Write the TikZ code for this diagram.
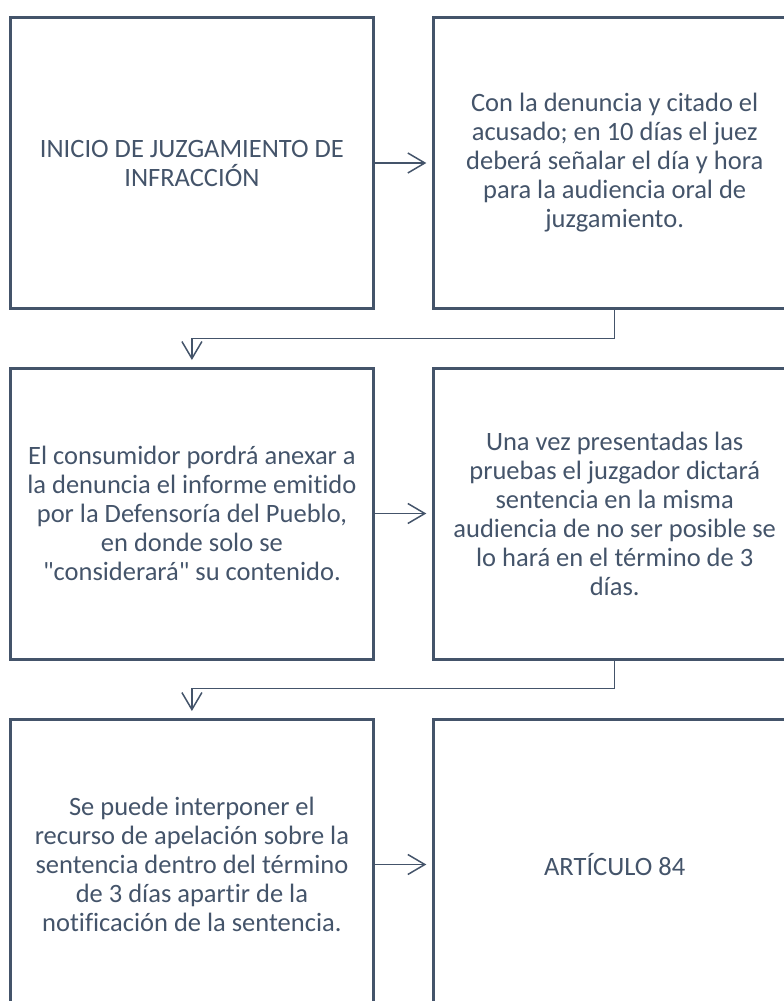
\documentclass[tikz,border=0pt]{standalone}
\usepackage{fontspec}
\newfontfamily\carl{Carlito}[Ligatures=NoCommon]
\usetikzlibrary{arrows.meta}
\definecolor{slate}{HTML}{44546A}
\tikzset{
  box/.style={draw=slate, line width=3pt, rectangle, minimum width=362.8pt, minimum height=291pt, inner sep=0pt, outer sep=0pt, align=center, text=slate, font=\carl\fontsize{26.5}{29}\selectfont},
  conn/.style={draw=slate, line width=1.5pt, -{Straight Barb[length=17pt,width=20pt,line width=1.5pt]}},
}
\begin{document}
\begin{tikzpicture}[x=1pt,y=-1pt]
\useasboundingbox (0,0) rectangle (784,1001);
\clip (0,0) rectangle (784,1001);
\node[box] (a) at (191.9,163) {INICIO DE JUZGAMIENTO DE\\INFRACCIÓN};
\node[box] (b) at (614.7,163) {Con la denuncia y citado el\\acusado; en 10 días el juez\\deberá señalar el día y hora\\para la audiencia oral de\\juzgamiento.};
\node[box] (c) at (191.9,513.5) {El consumidor pordrá anexar a\\la denuncia el informe emitido\\por la Defensoría del Pueblo,\\en donde solo se\\"considerará" su contenido.};
\node[box] (d) at (614.7,513.5) {Una vez presentadas las\\pruebas el juzgador dictará\\sentencia en la misma\\audiencia de no ser posible se\\lo hará en el término de 3\\días.};
\node[box] (e) at (191.9,864.5) {Se puede interponer el\\recurso de apelación sobre la\\sentencia dentro del término\\de 3 días apartir de la\\notificación de la sentencia.};
\node[box] (f) at (614.7,864.5) {ARTÍCULO 84};
\coordinate (k1) at (0,338.3);
\coordinate (k2) at (0,688.5);
\draw[conn, shorten >=7pt] (a.east) -- (b.west);
\draw[conn, shorten >=7pt] (c.east) -- (d.west);
\draw[conn, shorten >=7pt] (e.east) -- (f.west);
\draw[conn, shorten >=8pt] (b.south) -- (b.south |- k1) -| (c.north);
\draw[conn, shorten >=8pt] (d.south) -- (d.south |- k2) -| (e.north);
\end{tikzpicture}
\end{document}
